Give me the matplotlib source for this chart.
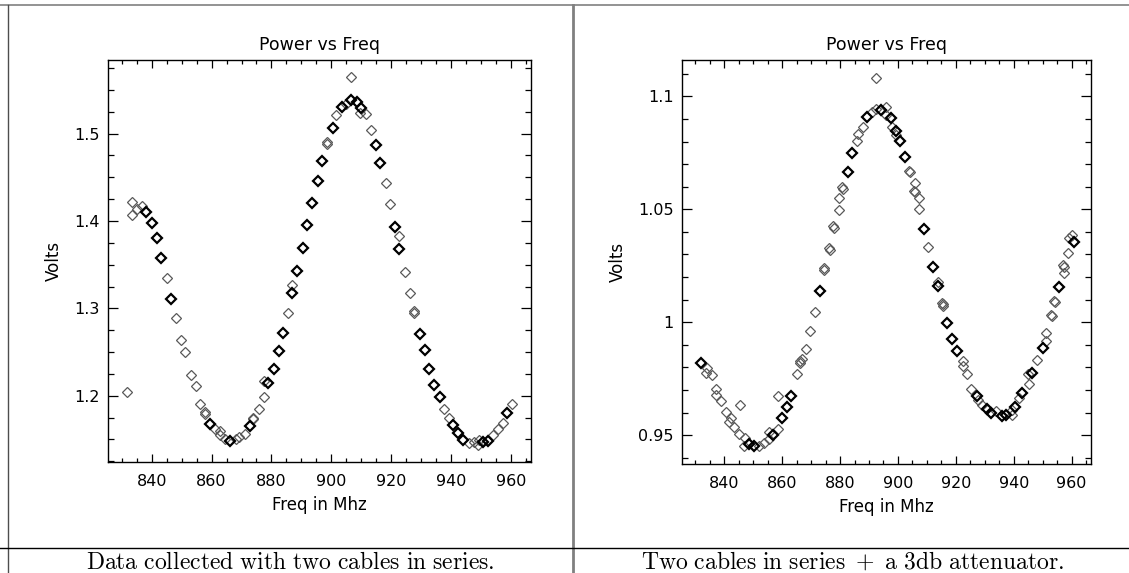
import matplotlib.pyplot as plt
from matplotlib.lines import Line2D

# left panel: two cables in series
left_freq = [833.3, 833.3, 835.0, 836.8, 845.0, 848.2, 849.9, 851.2, 853.0, 854.7,
             831.9, 856.1, 857.9, 857.7, 861.2, 862.9, 862.7, 864.5, 868.1, 869.0,
             871.2, 874.0, 873.8, 875.8, 877.6, 877.4, 885.6, 886.9, 898.7, 898.5,
             901.6, 904.9, 906.6, 909.6, 911.6, 913.2, 918.2, 919.6, 922.6, 924.6,
             926.4, 927.7, 927.5, 937.5, 939.3, 945.9, 947.5, 949.0, 949.2, 953.9,
             955.6, 957.3, 960.2]
left_volts = [1.422, 1.407, 1.414, 1.417, 1.335, 1.289, 1.264, 1.250, 1.224, 1.211,
              1.204, 1.191, 1.179, 1.181, 1.162, 1.160, 1.155, 1.150, 1.150, 1.153,
              1.156, 1.173, 1.175, 1.185, 1.198, 1.217, 1.295, 1.327, 1.488, 1.490,
              1.521, 1.534, 1.565, 1.524, 1.522, 1.504, 1.444, 1.419, 1.383, 1.342,
              1.318, 1.295, 1.297, 1.185, 1.174, 1.146, 1.147, 1.143, 1.1495, 1.155,
              1.162, 1.169, 1.191]
left_bold_freq = [838.2, 840.0, 841.8, 843.1, 846.6, 859.6, 866.0, 872.8, 878.8, 880.8,
                  882.4, 883.9, 886.9, 888.6, 890.4, 891.9, 893.7, 895.7, 896.8, 900.5,
                  903.5, 906.6, 908.5, 909.9, 914.9, 916.4, 921.3, 922.6, 929.6, 931.2,
                  932.6, 934.4, 936.3, 940.6, 942.4, 944.1, 950.5, 952.3, 958.6]
left_bold_volts = [1.410, 1.398, 1.380, 1.358, 1.311, 1.168, 1.148, 1.165, 1.214, 1.231,
                   1.251, 1.272, 1.318, 1.343, 1.369, 1.395, 1.421, 1.446, 1.469, 1.507,
                   1.530, 1.539, 1.536, 1.529, 1.487, 1.466, 1.393, 1.368, 1.271, 1.252,
                   1.230, 1.2125, 1.198, 1.166, 1.157, 1.1495, 1.147, 1.148, 1.180]

# right panel: two cables in series + 3db attenuator
right_freq = [833.9, 833.6, 835.9, 837.0, 837.0, 839.0, 840.7, 842.2, 841.8, 843.3,
              845.1, 845.4, 847.1, 846.9, 852.0, 853.7, 855.4, 855.4, 858.6, 858.6,
              865.2, 866.3, 866.1, 866.7, 868.4, 869.6, 871.3, 874.6, 874.4, 876.5,
              876.3, 877.8, 877.6, 879.7, 879.7, 881.0, 880.8, 885.9, 886.3, 888.0,
              891.0, 892.5, 892.5, 896.0, 896.0, 897.8, 899.2, 904.1, 903.9, 905.9,
              905.8, 905.6, 907.4, 907.3, 910.4, 913.7, 915.4, 915.2, 915.6, 922.4,
              922.4, 923.7, 925.4, 927.7, 928.9, 934.0, 939.3, 939.4, 941.8, 945.2,
              944.9, 948.1, 951.3, 951.3, 953.2, 953.0, 954.2, 954.0, 957.2, 957.0,
              957.2, 958.8, 959.1, 960.3]
right_volts = [0.9796, 0.9774, 0.9767, 0.9705, 0.9678, 0.9649, 0.9604, 0.9575, 0.9556, 0.9534,
               0.9504, 0.9634, 0.9489, 0.9450, 0.9450, 0.9465, 0.9482, 0.9513, 0.9527, 0.9674,
               0.9770, 0.9819, 0.9826, 0.9836, 0.9880, 0.9963, 1.0047, 1.0230, 1.0238, 1.0320,
               1.0328, 1.0418, 1.0425, 1.0497, 1.0549, 1.0590, 1.0597, 1.0802, 1.0833, 1.0864,
               1.0930, 1.1082, 1.0944, 1.0954, 1.0917, 1.0866, 1.0829, 1.0663, 1.0670, 1.0615,
               1.0576, 1.0583, 1.0549, 1.0501, 1.0332, 1.0178, 1.0079, 1.0086, 1.0072, 0.9830,
               0.9806, 0.9769, 0.9705, 0.9656, 0.9634, 0.9607, 0.9590, 0.9612, 0.9664, 0.9727,
               0.9771, 0.9833, 0.9917, 0.9952, 1.0027, 1.0034, 1.0089, 1.0096, 1.0246, 1.0253,
               1.0220, 1.0305, 1.0372, 1.0386]
right_bold_freq = [832.1, 848.5, 850.2, 856.9, 860.0, 861.7, 863.1, 873.1, 882.9, 884.0,
                   889.4, 894.3, 897.6, 899.5, 900.8, 902.6, 909.1, 912.2, 913.7, 917.1,
                   918.7, 920.5, 927.4, 930.6, 932.3, 935.8, 937.5, 940.3, 943.0, 946.3,
                   950.0, 955.7, 960.7]
right_bold_volts = [0.9820, 0.9461, 0.9450, 0.9500, 0.9575, 0.9623, 0.9675, 1.0139, 1.0665, 1.0748,
                    1.0907, 1.0939, 1.0903, 1.0847, 1.0802, 1.0731, 1.0411, 1.0243, 1.0160, 0.9996,
                    0.9926, 0.9873, 0.9675, 0.9615, 0.9597, 0.9585, 0.9590, 0.9624, 0.9688, 0.9776,
                    0.9885, 1.0158, 1.0357]

captions = ["Data collected with two cables in series.",
            "Two cables in series + a 3db attenuator."]

W, H = 1129, 573
fig = plt.figure(figsize=(W / 100, H / 100), dpi=100)
plt.rcParams["mathtext.fontset"] = "cm"


def px_box(x0, y0, x1, y1):
    return [x0 / W, 1 - y1 / H, (x1 - x0) / W, (y1 - y0) / H]


def latex_caption(text):
    body = text.replace(" ", r"\ ")
    body = body.replace(r"\ +\ ", r"}\ +\ \mathrm{")
    return r"$\mathrm{" + body + "}$"


def draw_panel(ax, freq, volts, bold_freq, bold_volts, ylim, major, minor):
    ax.plot(freq, volts, linestyle="none", marker="D", markersize=5.2,
            markerfacecolor="none", markeredgecolor="0.35", markeredgewidth=0.9)
    ax.plot(bold_freq, bold_volts, linestyle="none", marker="D", markersize=5.2,
            markerfacecolor="none", markeredgecolor="black", markeredgewidth=1.6)
    ax.set_xlim(825.4, 966.7)
    ax.set_ylim(*ylim)
    ax.set_xticks(range(840, 961, 20))
    ax.set_xticks(range(830, 966, 5), minor=True)
    ax.yaxis.set_major_locator(plt.MultipleLocator(major))
    ax.yaxis.set_minor_locator(plt.MultipleLocator(minor))
    ax.yaxis.set_major_formatter(plt.FuncFormatter(lambda v, p: f"{v:g}"))
    ax.tick_params(which="both", direction="in", top=True, right=True,
                   width=0.9, labelsize=11.5)
    ax.tick_params(axis="x", which="major", length=5.5, pad=9)
    ax.tick_params(axis="x", which="minor", length=3)
    ax.tick_params(axis="y", which="major", length=7, pad=6)
    ax.tick_params(axis="y", which="minor", length=4.3)
    for sp in ax.spines.values():
        sp.set_linewidth(1.0)
    ax.set_title("Power vs Freq", fontsize=12.5, pad=7)
    ax.set_xlabel("Freq in Mhz", fontsize=12, labelpad=5)
    ax.set_ylabel("Volts", fontsize=12, labelpad=8)


ax1 = fig.add_axes(px_box(108, 60, 531, 462))
draw_panel(ax1, left_freq, left_volts, left_bold_freq, left_bold_volts,
           (1.1241, 1.5843), 0.1, 0.025)
ax2 = fig.add_axes(px_box(682, 60, 1091, 464))
draw_panel(ax2, right_freq, right_volts, right_bold_freq, right_bold_volts,
           (0.9372, 1.1161), 0.05, 0.01)

# table rules around the two cells
fig.add_artist(Line2D([0, 1], [1 - 4.5 / H, 1 - 4.5 / H], color="0.5", lw=1.2))
fig.add_artist(Line2D([8 / W, 8 / W], [0, 1 - 4.5 / H], color="0.3", lw=1.0))
fig.add_artist(Line2D([572.7 / W, 572.7 / W], [0, 1 - 4.5 / H], color="0.5", lw=2.0))
fig.add_artist(Line2D([0, 1], [1 - 548 / H, 1 - 548 / H], color="black", lw=1.0))

for cx, text in zip([290, 852], captions):
    fig.text(cx / W, 1 - 562 / H, latex_caption(text),
             ha="center", va="center", fontsize=17)

fig.savefig("out.png", dpi=100)
